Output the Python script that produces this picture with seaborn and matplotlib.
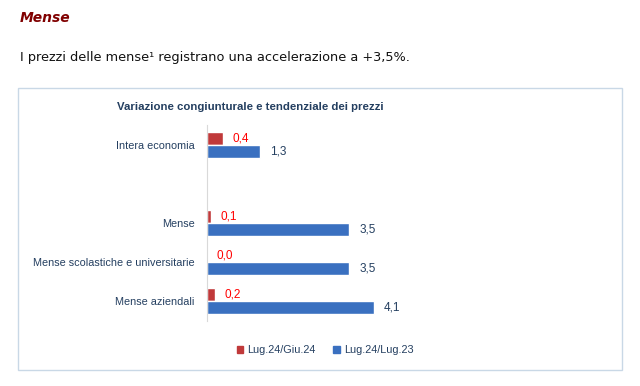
import matplotlib
matplotlib.use("Agg")
import matplotlib.pyplot as plt
from matplotlib.patches import Rectangle, Patch
import pandas as pd
import seaborn as sns

# ---- data ----
categorie = ["Intera economia", " ", "Mense",
             "Mense scolastiche e universitarie", "Mense aziendali"]
cat_dati = ["Intera economia", "Mense",
            "Mense scolastiche e universitarie", "Mense aziendali"]
congiunturale = [0.4, 0.1, 0.0, 0.2]   # Lug.24/Giu.24
tendenziale = [1.3, 3.5, 3.5, 4.1]     # Lug.24/Lug.23
serie = ["Lug.24/Giu.24", "Lug.24/Lug.23"]

RED = "#C0393A"
BLUE = "#3A70C0"
NAVY = "#243F60"

df = pd.DataFrame({
    "cat": cat_dati * 2,
    "val": congiunturale + tendenziale,
    "serie": [serie[0]] * 4 + [serie[1]] * 4,
})

sns.set_style("white")
plt.rcParams["font.family"] = ["Liberation Sans", "DejaVu Sans"]

fig = plt.figure(figsize=(6.4, 3.86), dpi=100)

# header text
fig.text(20 / 640, 1 - 18 / 386, "Mense", color="#800000", fontsize=10,
         fontweight="bold", fontstyle="italic", va="center",
         family="DejaVu Sans")
fig.text(20 / 640, 1 - 58 / 386, "I prezzi delle mense\u00b9 registrano una accelerazione a +3,5%.",
         color="#111111", fontsize=9.3, va="center", family="DejaVu Sans")

# chart frame
fig.patches.append(Rectangle((18 / 640, 1 - 370 / 386), 604 / 640, 282 / 386,
                             transform=fig.transFigure, fill=False,
                             edgecolor="#C9D8E6", lw=1.0))

fig.text(250 / 640, 1 - 107 / 386, "Variazione congiunturale e tendenziale dei prezzi",
         color=NAVY, fontsize=8.2, fontweight="bold", ha="center", va="center")

ax = fig.add_axes([207 / 640, 1 - 321 / 386, 393 / 640, 196 / 386])
sns.barplot(data=df, y="cat", x="val", hue="serie", order=categorie,
            hue_order=serie, palette=[RED, BLUE], orient="h", width=0.66,
            errorbar=None, saturation=1, legend=False, ax=ax)
ax.set_xlim(0, 9.66)
ax.set_ylim(4.5, -0.5)

for cont, col in zip(ax.containers, ["#FF0000", NAVY]):
    ax.bar_label(cont, labels=[f"{v:.1f}".replace(".", ",") for v in cont.datavalues],
                 padding=7, color=col, fontsize=8.5)

for s in ["top", "right", "bottom"]:
    ax.spines[s].set_visible(False)
ax.spines["left"].set_color("#D9D9D9")
ax.set_xticks([])
ax.set_xlabel("")
ax.set_ylabel("")
ax.tick_params(axis="y", length=0, pad=9, labelsize=7.8, labelcolor=NAVY)

handles = [Patch(color=RED), Patch(color=BLUE)]
leg = fig.legend(handles, serie, loc="center", bbox_to_anchor=(325 / 640, 1 - 350 / 386),
                 ncol=2, frameon=False, fontsize=7.8, handlelength=0.6,
                 handleheight=0.6, handletextpad=0.4, columnspacing=1.6)
for t in leg.get_texts():
    t.set_color(NAVY)

fig.savefig("out.png", dpi=100)
